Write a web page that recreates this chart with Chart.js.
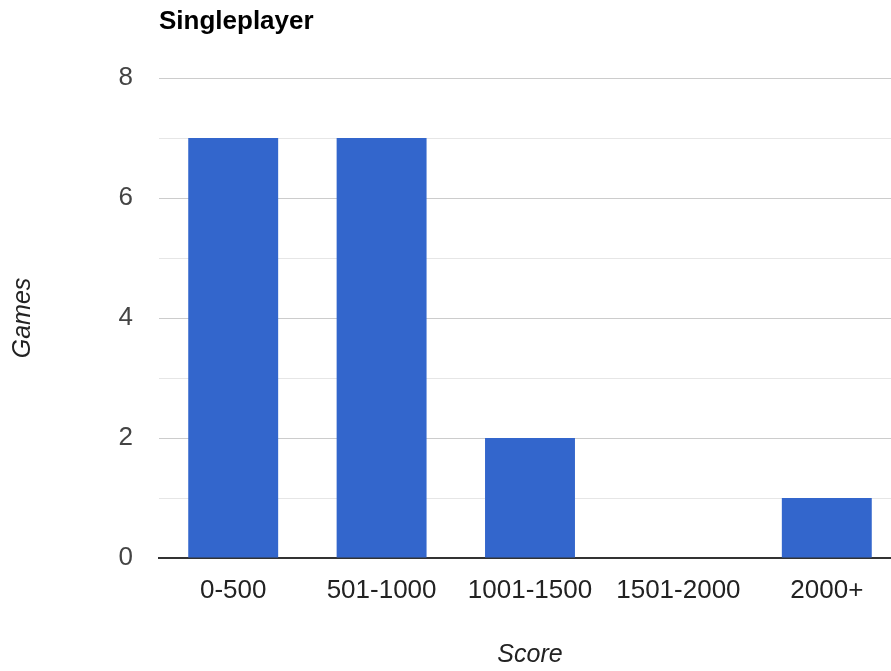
<!DOCTYPE html>
<html>
<head>
<meta charset="utf-8">
<script src="https://cdn.jsdelivr.net/npm/chart.js@4/dist/chart.umd.min.js"></script>
<style>
  html, body { margin: 0; padding: 0; background: #fff; overflow: hidden; }
  #wrap { position: absolute; left: 0; top: 0; width: 901px; height: 671px; }
</style>
</head>
<body>
<div id="wrap"><canvas id="myChart"></canvas></div>
<script>
// datos del grafico
const categories = ['0-500', '501-1000', '1001-1500', '1501-2000', '2000+'];
const games = [7, 7, 2, 0, 1];
const yTicks = [0, 2, 4, 6, 8];

const chartTitle = 'Singleplayer';
const fontFam = '"Liberation Sans", Arial, sans-serif';

// titulo arriba a la izquierda, alineado con el area del grafico
const titlePlugin = {
    id: 'leftTitle',
    afterDraw(chart) {
        const c = chart.ctx;
        c.save();
        c.font = 'bold 26px ' + fontFam;
        c.fillStyle = '#000';
        c.textBaseline = 'middle';
        c.textAlign = 'left';
        c.fillText(chartTitle, chart.chartArea.left, 22);
        c.restore();
    }
};

const ctx = document.getElementById('myChart');
var myChart = new Chart(ctx, {
    type: 'bar',
    data: {
        labels: categories,
        datasets: [{
            label: 'Games',
            data: games,
            backgroundColor: '#3366cc',
            borderWidth: 0,
            categoryPercentage: 1,
            barPercentage: 0.606
        }]
    },
    options: {
        responsive: true,
        maintainAspectRatio: false,
        animation: false,
        layout: { padding: { top: 78, right: 0, bottom: 0, left: 0 } },
        plugins: {
            legend: { display: false },
            tooltip: { enabled: false },
            title: { display: false }
        },
        scales: {
            x: {
                grid: { display: false, drawTicks: false },
                border: { display: true, color: '#333', width: 2 },
                ticks: {
                    color: '#222',
                    padding: 17,
                    font: { family: fontFam, size: 26 }
                },
                title: {
                    display: true,
                    text: 'Score',
                    color: '#222',
                    padding: { top: 0, bottom: 1 },
                    font: { family: fontFam, size: 25, style: 'italic' }
                },
                afterFit(scale) { scale.height = 113; }
            },
            y: {
                min: 0,
                max: 8,
                grid: {
                    drawTicks: false,
                    lineWidth: 1,
                    color: (c) => (c.tick && c.tick.value % 2 === 0) ? '#cccccc' : '#e6e6e6'
                },
                border: { display: false },
                ticks: {
                    stepSize: 1,
                    autoSkip: false,
                    padding: 26,
                    color: '#444',
                    font: { family: fontFam, size: 26, lineHeight: 1.1 },
                    callback: (v) => yTicks.includes(v) ? v : ''
                },
                title: {
                    display: true,
                    text: 'Games',
                    color: '#222',
                    padding: { top: 8, bottom: 0 },
                    font: { family: fontFam, size: 25, style: 'italic' }
                },
                afterFit(scale) { scale.width = 159; }
            }
        }
    },
    plugins: [titlePlugin]
});
</script>
</body>
</html>
